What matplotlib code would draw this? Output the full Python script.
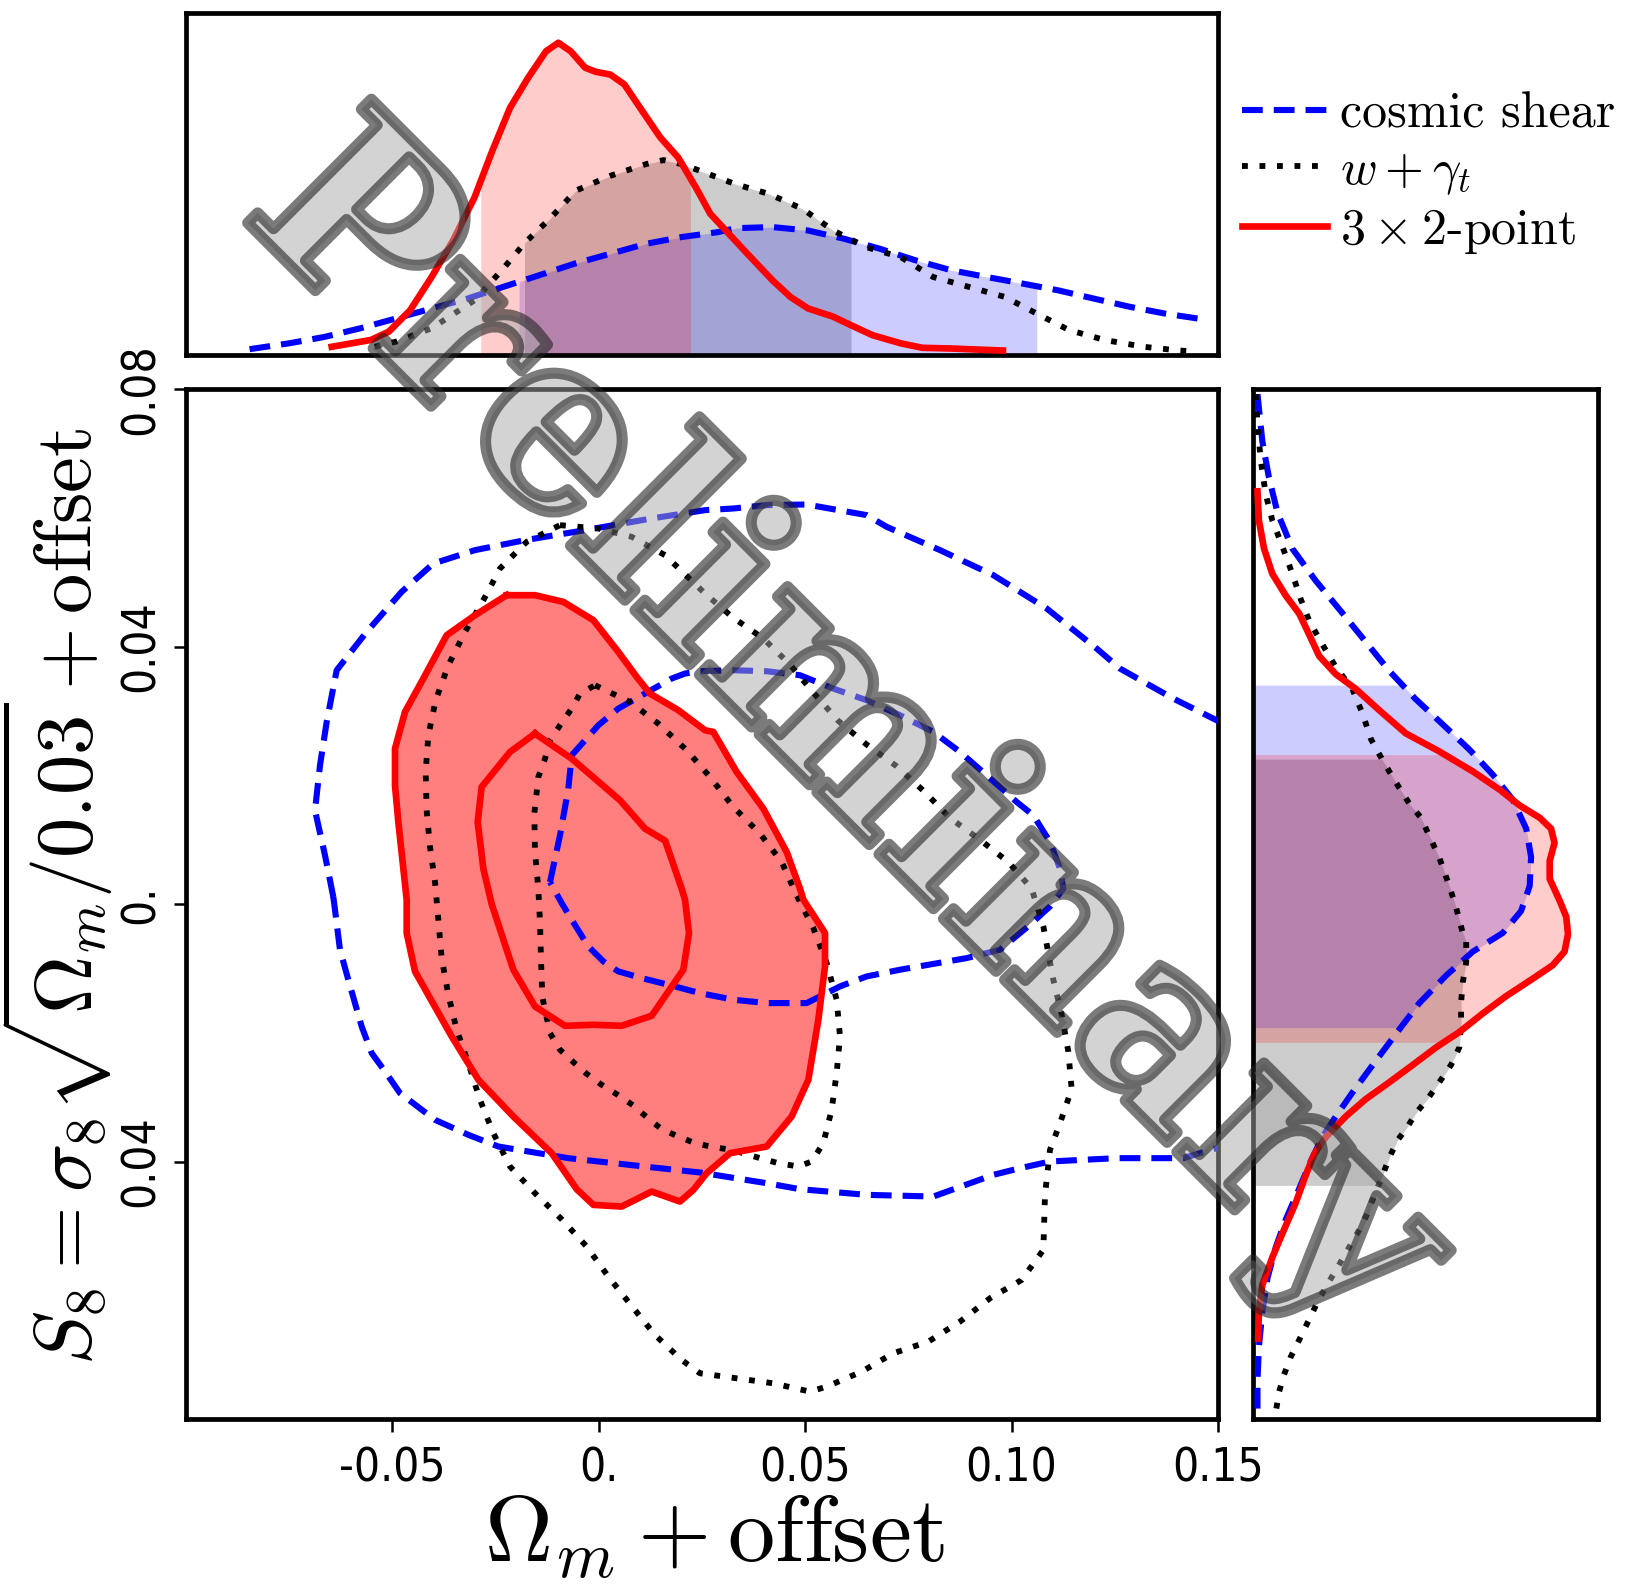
import numpy as np
import matplotlib
matplotlib.use('Agg')
import matplotlib.pyplot as plt
from matplotlib.patches import Polygon, PathPatch
from matplotlib.lines import Line2D
from matplotlib.textpath import TextPath
from matplotlib.font_manager import FontProperties, findfont
from matplotlib.transforms import Affine2D

plt.rcParams['mathtext.fontset'] = 'cm'

# ---------------- data ----------------
# x-axis: Omega_m + offset ; y-axis: S8 + offset
# cosmic shear 95% (blue dashed, extends past right edge)
cs95_x = [-0.06431, -0.06633, -0.06875, -0.06754, -0.06592, -0.06350, -0.05624, -0.04776, -0.04008,
          -0.02999, -0.01788, -0.00334, 0.01281, 0.02573, 0.03259, 0.04067, 0.05036, 0.06489, 0.06974,
          0.08266, 0.09558, 0.10850, 0.12061, 0.12626, 0.13918, 0.14968, 0.165, 0.165,
          0.14968, 0.14161, 0.12545, 0.10930, 0.10204, 0.09558, 0.08104, 0.06489, 0.04874, 0.04067,
          0.02452, 0.00877, -0.00738, -0.02434, -0.03161, -0.03968, -0.04816, -0.05179, -0.05502,
          -0.05745, -0.06068, -0.06270, -0.06391]
cs95_y = [0.00108, 0.00756, 0.01455, 0.02155, 0.02828, 0.03631, 0.04227, 0.04849, 0.05289,
          0.05497, 0.05652, 0.05807, 0.05989, 0.06118, 0.06144, 0.06196, 0.06206, 0.06041, 0.05859,
          0.05497, 0.05108, 0.04590, 0.03968, 0.03657, 0.03191, 0.02854, 0.0230, -0.0400,
          -0.03793, -0.03948, -0.03948, -0.04000, -0.04104, -0.04207, -0.04544, -0.04518, -0.04430, -0.04337,
          -0.04171, -0.04062, -0.03948, -0.03767, -0.03586, -0.03353, -0.02938, -0.02601, -0.02316,
          -0.01902, -0.01177, -0.00710, -0.00089]
# cosmic shear 68%
cs68_x = [-0.01182, -0.00940, -0.00738, -0.00657, -0.00011, 0.00473, 0.01119, 0.01765, 0.02088,
          0.02452, 0.03259, 0.04067, 0.04874, 0.05682, 0.06489, 0.07297, 0.08104, 0.08750, 0.09396,
          0.10123, 0.10527, 0.10930, 0.11173, 0.11254, 0.10930, 0.10446, 0.09719, 0.08912, 0.07297,
          0.06489, 0.05843, 0.05036, 0.04067, 0.03259, 0.02452, 0.01684, 0.01038, 0.00473, 0.00110,
          -0.00254, -0.00657, -0.00900]
cs68_y = [0.00341, 0.01067, 0.01792, 0.02310, 0.02776, 0.03036, 0.03269, 0.03502, 0.03580,
          0.03616, 0.03631, 0.03616, 0.03554, 0.03346, 0.03165, 0.02932, 0.02673, 0.02362, 0.01999,
          0.01585, 0.01378, 0.00963, 0.00549, 0.00238, -0.00037, -0.00322, -0.00710, -0.00840, -0.01021,
          -0.01125, -0.01280, -0.01539, -0.01539, -0.01487, -0.01384, -0.01254, -0.01151, -0.01047, -0.00892,
          -0.00659, -0.00244, 0.00015]
# w + gamma_t 95% (black dotted)
wg95_x = [-0.00940, -0.00011, 0.00796, 0.01604, 0.02573, 0.03259, 0.03986, 0.04632, 0.05197, 0.05803,
          0.06489, 0.07216, 0.07878, 0.08508, 0.09219, 0.09921, 0.10486, 0.10769, 0.11011, 0.11213,
          0.11374, 0.11455, 0.11173, 0.10930, 0.10809, 0.10769, 0.10244, 0.09477, 0.08750, 0.07983,
          0.07135, 0.06368, 0.05520, 0.05116, 0.04228, 0.03340, 0.02452, 0.02007, 0.01361, 0.00796,
          0.00231, -0.00294, -0.00900, -0.01546, -0.02151, -0.02555, -0.02878, -0.03161, -0.03443,
          -0.03645, -0.03807, -0.03887, -0.03968, -0.04089, -0.04170, -0.04194, -0.04130, -0.03952,
          -0.03645, -0.03241, -0.02797, -0.02393, -0.01747]
wg95_y = [0.05885, 0.05833, 0.05704, 0.05419, 0.04823, 0.04445, 0.04124, 0.03719, 0.03284, 0.02844,
          0.02476, 0.02139, 0.01751, 0.01336, 0.01005, 0.00652, 0.00238, -0.00348, -0.01177, -0.01721,
          -0.02291, -0.02876, -0.03404, -0.03819, -0.04518, -0.05373, -0.05840, -0.06124, -0.06487, -0.06798,
          -0.06979, -0.07264, -0.07497, -0.07575, -0.07446, -0.07368, -0.07290, -0.07083, -0.06694, -0.06244,
          -0.05788, -0.05321, -0.04897, -0.04492, -0.04078, -0.03560, -0.03042, -0.02472, -0.01954,
          -0.01410, -0.00840, -0.00244, 0.00341, 0.00885, 0.01455, 0.02051, 0.02621, 0.03165,
          0.03709, 0.04227, 0.04719, 0.05212, 0.05626]
# w + gamma_t 68%
wg68_x = [-0.00092, 0.00756, 0.01442, 0.02129, 0.02694, 0.03259, 0.03905, 0.04430, 0.04793, 0.05197,
          0.05520, 0.05762, 0.05843, 0.05762, 0.05641, 0.05439, 0.05157, 0.04834, 0.04349, 0.03905,
          0.03219, 0.02775, 0.02330, 0.01927, 0.01523, 0.01160, 0.00837, 0.00457, 0.00069, -0.00294,
          -0.00617, -0.00940, -0.01182, -0.01368, -0.01400, -0.01424, -0.01465, -0.01546, -0.01562,
          -0.01465, -0.01303, -0.01182, -0.00940, -0.00657, -0.00455]
wg68_y = [0.03398, 0.03139, 0.02802, 0.02388, 0.01973, 0.01507, 0.01093, 0.00652, 0.00134, -0.00374,
          -0.00918, -0.01487, -0.02057, -0.02627, -0.03197, -0.03715, -0.04000, -0.04078, -0.04026, -0.03948,
          -0.03819, -0.03777, -0.03715, -0.03612, -0.03498, -0.03311, -0.03130, -0.02964, -0.02809, -0.02638,
          -0.02456, -0.02265, -0.02006, -0.01446, -0.00866, -0.00296, 0.00238, 0.00808, 0.01404,
          0.01973, 0.02258, 0.02543, 0.02776, 0.03036, 0.03269]
# 3x2-point 95% (red, filled)
tp95_x = [-0.02232, -0.01546, -0.00859, -0.00132, 0.00473, 0.00917, 0.01240, 0.01927, 0.02573, 0.02775,
          0.03340, 0.03986, 0.04551, 0.04874, 0.04955, 0.05480, 0.05480, 0.05318, 0.05076, 0.04672,
          0.04067, 0.03178, 0.02613, 0.02290, 0.01967, 0.01281, 0.00554, -0.00132, -0.00536, -0.01142,
          -0.02070, -0.02918, -0.03564, -0.04453, -0.04654, -0.04654, -0.04856, -0.04937, -0.04937,
          -0.04695, -0.04251, -0.03685, -0.02999]
tp95_y = [0.04797, 0.04797, 0.04693, 0.04409, 0.03916, 0.03528, 0.03269, 0.03010, 0.02699, 0.02673,
          0.02051, 0.01481, 0.00808, 0.00238, 0.00067, -0.00451, -0.00969, -0.01798, -0.02731, -0.03301,
          -0.03767, -0.03871, -0.04182, -0.04441, -0.04622, -0.04467, -0.04700, -0.04674, -0.04430, -0.03871,
          -0.03301, -0.02731, -0.02057, -0.01047, -0.00451, 0.00067, 0.01274, 0.01844, 0.02414,
          0.02984, 0.03502, 0.04175, 0.04486]
# 3x2-point 68%
tp68_x = [-0.01546, -0.02151, -0.02838, -0.02934, -0.02797, -0.02595, -0.02232, -0.02070, -0.01546,
          -0.00819, -0.00132, 0.00554, 0.01281, 0.02048, 0.02185, 0.02088, 0.02007, 0.01608, 0.01119,
          0.00514, -0.00657]
tp68_y = [0.02647, 0.02362, 0.01818, 0.01274, 0.00549, 0.00000, -0.00710, -0.01021, -0.01591,
          -0.01892, -0.01876, -0.01892, -0.01736, -0.01021, -0.00451, 0.00067, 0.00238, 0.00983, 0.01170,
          0.01611, 0.02258]

# 1D marginal of Omega_m (top panel, height as fraction of panel)
om_cs_x = [-0.0846, -0.0751, -0.0664, -0.0578, -0.0491, -0.0405, -0.0318, -0.0232, -0.0145, -0.0059,
           0.0028, 0.0114, 0.0201, 0.0287, 0.0334, 0.0421, 0.0507, 0.0594, 0.0680, 0.0767, 0.0853,
           0.0940, 0.1026, 0.1113, 0.1199, 0.1286, 0.1372, 0.1476]
om_cs_p = [0.017, 0.034, 0.053, 0.078, 0.107, 0.136, 0.165, 0.199, 0.233, 0.267,
           0.296, 0.325, 0.345, 0.359, 0.371, 0.374, 0.364, 0.340, 0.311, 0.277, 0.248,
           0.228, 0.209, 0.189, 0.165, 0.141, 0.121, 0.102]
om_wg_x = [-0.0543, -0.0491, -0.0405, -0.0301, -0.0232, -0.0180, -0.0119, -0.0055, 0.0028, 0.0114,
           0.0157, 0.0201, 0.0244, 0.0330, 0.0412, 0.0494, 0.0568, 0.0646, 0.0732, 0.0810, 0.0897,
           0.0983, 0.1061, 0.1139, 0.1225, 0.1320, 0.1407, 0.1450]
om_wg_p = [0.024, 0.039, 0.078, 0.160, 0.252, 0.327, 0.398, 0.481, 0.524, 0.558,
           0.570, 0.558, 0.539, 0.500, 0.471, 0.427, 0.364, 0.316, 0.286, 0.228, 0.199,
           0.170, 0.121, 0.073, 0.044, 0.024, 0.013, 0.010]
om_tp_x = [-0.0647, -0.0552, -0.0509, -0.0457, -0.0405, -0.0353, -0.0301, -0.0258, -0.0215, -0.0171,
           -0.0128, -0.0098, -0.0068, -0.0033, -0.0007, 0.0028, 0.0062, 0.0105, 0.0149, 0.0192,
           0.0235, 0.0270, 0.0300, 0.0360, 0.0421, 0.0464, 0.0507, 0.0568, 0.0611, 0.0663, 0.0732,
           0.0784, 0.0853, 0.0979]
om_tp_p = [0.024, 0.044, 0.068, 0.131, 0.228, 0.335, 0.461, 0.597, 0.723, 0.811,
           0.888, 0.913, 0.888, 0.840, 0.828, 0.820, 0.791, 0.714, 0.636, 0.578,
           0.490, 0.413, 0.374, 0.296, 0.218, 0.170, 0.136, 0.112, 0.087, 0.058, 0.034,
           0.021, 0.019, 0.013]

# 1D marginal of S8 (right panel, width as fraction of panel)
s8_cs_y = [0.0792, 0.0719, 0.0663, 0.0608, 0.0552, 0.0502, 0.0452, 0.0407, 0.0362, 0.0318, 0.0279,
           0.0240, 0.0201, 0.0162, 0.0117, 0.0073, 0.0028, -0.0011, -0.0045, -0.0074, -0.0111, -0.0154,
           -0.0202, -0.0250, -0.0293, -0.0330, -0.0362, -0.0400, -0.0442, -0.0490, -0.0533, -0.0581,
           -0.0634, -0.0688, -0.0741, -0.0784]
s8_cs_p = [0.013, 0.027, 0.046, 0.071, 0.114, 0.182, 0.259, 0.327, 0.395, 0.472, 0.550,
           0.627, 0.695, 0.753, 0.792, 0.806, 0.802, 0.777, 0.724, 0.637, 0.560, 0.482,
           0.414, 0.347, 0.288, 0.240, 0.201, 0.167, 0.134, 0.095, 0.066, 0.042,
           0.027, 0.017, 0.013, 0.013]
s8_wg_y = [0.0792, 0.0747, 0.0691, 0.0636, 0.0596, 0.0563, 0.0513, 0.0474, 0.0440, 0.0407, 0.0368,
           0.0334, 0.0295, 0.0256, 0.0223, 0.0189, 0.0156, 0.0134, 0.0100, 0.0072, 0.0028, -0.0006,
           -0.0045, -0.0058, -0.0090, -0.0122, -0.0154, -0.0186, -0.0223, -0.0250, -0.0277, -0.0303,
           -0.0325, -0.0346, -0.0367, -0.0394, -0.0421, -0.0453, -0.0480, -0.0506, -0.0533, -0.0560,
           -0.0586, -0.0613, -0.0645, -0.0677, -0.0704, -0.0731, -0.0757, -0.0789]
s8_wg_p = [0.008, 0.013, 0.022, 0.037, 0.056, 0.080, 0.114, 0.138, 0.163, 0.197, 0.240,
           0.288, 0.318, 0.342, 0.376, 0.414, 0.453, 0.487, 0.516, 0.540, 0.569, 0.589,
           0.608, 0.618, 0.618, 0.608, 0.603, 0.603, 0.598, 0.574, 0.540, 0.506,
           0.472, 0.448, 0.419, 0.395, 0.376, 0.351, 0.332, 0.308, 0.279, 0.250,
           0.221, 0.192, 0.163, 0.134, 0.109, 0.090, 0.076, 0.066]
s8_tp_y = [0.0641, 0.0596, 0.0552, 0.0513, 0.0479, 0.0451, 0.0424, 0.0385, 0.0357, 0.0334, 0.0301,
           0.0265, 0.0237, 0.0206, 0.0178, 0.0153, 0.0134, 0.0117, 0.0095, 0.0067, 0.0039, 0.0005,
           -0.0020, -0.0047, -0.0074, -0.0095, -0.0116, -0.0143, -0.0170, -0.0199, -0.0223, -0.0250,
           -0.0277, -0.0303, -0.0330, -0.0362, -0.0389, -0.0421, -0.0464, -0.0512, -0.0549, -0.0592,
           -0.0634, -0.0675]
s8_tp_p = [0.013, 0.017, 0.032, 0.056, 0.095, 0.134, 0.158, 0.192, 0.240, 0.298, 0.366,
           0.443, 0.540, 0.637, 0.714, 0.773, 0.831, 0.864, 0.874, 0.860, 0.860, 0.889,
           0.908, 0.913, 0.903, 0.869, 0.811, 0.734, 0.666, 0.598, 0.530, 0.463,
           0.395, 0.327, 0.269, 0.211, 0.177, 0.153, 0.124, 0.085, 0.056, 0.027,
           0.017, 0.015]

# 68% intervals shaded in the marginals
om_int = {'wg': (-0.0180, 0.0611), 'cs': (-0.0193, 0.1061), 'tp': (-0.0286, 0.0222)}
s8_int = {'wg': (-0.0437, 0.0225), 'cs': (-0.0192, 0.0340), 'tp': (-0.0215, 0.0232)}

legend_labels = ['cosmic shear', r'$w+\gamma_t$', r'$3\times 2$-point']
xticks = [-0.05, 0.0, 0.05, 0.10, 0.15]
xtick_labels = ['-0.05', '0.', '0.05', '0.10', '0.15']
yticks = [0.08, 0.04, 0.0, -0.04]
ytick_labels = ['0.08', '0.04', '0.', '0.04']

# ---------------- styling ----------------
BLUE, RED, BLACK = '#0000ff', '#ff0000', '#000000'
LW_B, LW_K, LW_R = 4.4, 4.2, 4.8
DASH = (0, (3.4, 1.8))
DOT = (0, (1.0, 2.0))
styles = {
    'cs': dict(color=BLUE, lw=LW_B, linestyle=DASH),
    'wg': dict(color=BLACK, lw=LW_K, linestyle=DOT),
    'tp': dict(color=RED, lw=LW_R, linestyle='-'),
}


def tick_fontprops():
    cands = [dict(family='Liberation Sans Narrow'),
             dict(family='DejaVu Sans', stretch='condensed'),
             dict(family='DejaVu Sans', stretch='semi-condensed')]
    for c in cands:
        try:
            p = findfont(FontProperties(**c), fallback_to_default=False)
            if 'Narrow' in p or 'Condensed' in p:
                return FontProperties(fname=p, size=33)
        except Exception:
            pass
    return FontProperties(family='Liberation Sans', size=30)


TFP = tick_fontprops()

W, H = 1627, 1584
fig = plt.figure(figsize=(W / 100, H / 100), dpi=100)

L, R = 186 / W, 1218 / W
B, T = 1 - 1419 / H, 1 - 389 / H
ax = fig.add_axes([L, B, R - L, T - B])
axt = fig.add_axes([L, 1 - 355 / H, R - L, (355 - 13) / H])
axr = fig.add_axes([1253 / W, B, (1598 - 1253) / W, T - B])

for a in (ax, axt, axr):
    for s in a.spines.values():
        s.set_linewidth(3.4)

# ---- main panel ----
ax.add_patch(Polygon(np.column_stack([tp95_x, tp95_y]), closed=True,
                     facecolor=RED, alpha=0.5, edgecolor='none', zorder=1))


def closed(xs, ys):
    return list(xs) + [xs[0]], list(ys) + [ys[0]]


for (xs, ys, key) in [(cs95_x, cs95_y, 'cs'), (cs68_x, cs68_y, 'cs'),
                      (wg95_x, wg95_y, 'wg'), (wg68_x, wg68_y, 'wg'),
                      (tp95_x, tp95_y, 'tp'), (tp68_x, tp68_y, 'tp')]:
    cx, cy = closed(xs, ys)
    ax.plot(cx, cy, zorder=3, solid_joinstyle='round', **styles[key])

ax.set_xlim(-0.1, 0.15)
ax.set_ylim(-0.08, 0.08)
ax.set_xticks(xticks)
ax.set_xticklabels(xtick_labels, fontproperties=TFP)
ax.set_yticks(yticks)
ax.set_yticklabels(ytick_labels, fontproperties=TFP, rotation=90, va='center')
ax.tick_params(axis='both', direction='out', length=9, width=1.8)
ax.tick_params(axis='x', pad=11)
ax.tick_params(axis='y', pad=7)


def shade_v(a, xs, ys, lo, hi, color):
    xs = np.asarray(xs); ys = np.asarray(ys)
    m = (xs > lo) & (xs < hi)
    px = np.concatenate([[lo], xs[m], [hi]])
    py = np.concatenate([[np.interp(lo, xs, ys)], ys[m], [np.interp(hi, xs, ys)]])
    a.fill_between(px, 0, py, color=color, alpha=0.2, lw=0, zorder=1)


def shade_h(a, ys, ps, lo, hi, color):
    ys = np.asarray(ys); ps = np.asarray(ps)
    o = np.argsort(ys)
    ys, ps = ys[o], ps[o]
    m = (ys > lo) & (ys < hi)
    py = np.concatenate([[lo], ys[m], [hi]])
    pp = np.concatenate([[np.interp(lo, ys, ps)], ps[m], [np.interp(hi, ys, ps)]])
    a.fill_betweenx(py, 0, pp, color=color, alpha=0.2, lw=0, zorder=1)


# ---- top panel ----
shade_v(axt, om_wg_x, om_wg_p, *om_int['wg'], BLACK)
shade_v(axt, om_cs_x, om_cs_p, *om_int['cs'], BLUE)
shade_v(axt, om_tp_x, om_tp_p, *om_int['tp'], RED)
axt.plot(om_cs_x, om_cs_p, zorder=3, **styles['cs'])
axt.plot(om_wg_x, om_wg_p, zorder=3, **styles['wg'])
axt.plot(om_tp_x, om_tp_p, zorder=3, **styles['tp'])
axt.set_xlim(-0.1, 0.15)
axt.set_ylim(0, 1)
axt.set_xticks([]); axt.set_yticks([])

# ---- right panel ----
shade_h(axr, s8_wg_y, s8_wg_p, *s8_int['wg'], BLACK)
shade_h(axr, s8_cs_y, s8_cs_p, *s8_int['cs'], BLUE)
shade_h(axr, s8_tp_y, s8_tp_p, *s8_int['tp'], RED)
axr.plot(s8_cs_p, s8_cs_y, zorder=3, **styles['cs'])
axr.plot(s8_wg_p, s8_wg_y, zorder=3, **styles['wg'])
axr.plot(s8_tp_p, s8_tp_y, zorder=3, **styles['tp'])
axr.set_ylim(-0.08, 0.08)
axr.set_xlim(0, 1)
axr.set_xticks([]); axr.set_yticks([])

# ---- labels ----
fig.text(714 / W, 1 - 1536 / H, r'$\Omega_m + \mathrm{offset}$', fontsize=68,
         ha='center', va='center')
fig.text(57 / W, (B + T) / 2 + 0.005, r'$S_8 = \sigma_8\sqrt{\Omega_m/0.03} + \mathrm{offset}$',
         fontsize=58, ha='center', va='center', rotation=90)

# ---- legend ----
handles = [Line2D([], [], **styles['cs']), Line2D([], [], **styles['wg']),
           Line2D([], [], **styles['tp'])]
fig.legend(handles, legend_labels, loc='upper left',
           bbox_to_anchor=(1242 / W, 1 - 92 / H), frameon=False,
           prop=FontProperties(family='cmr10', size=36), handlelength=1.7,
           handletextpad=0.25, labelspacing=0.2, borderpad=0, borderaxespad=0)

# ---- watermark ----
fp = FontProperties(family='DejaVu Serif', weight='bold')
tp = TextPath((0, 0), 'Preliminary', size=240, prop=fp)
ext = tp.get_extents()
cx, cy = (ext.x0 + ext.x1) / 2, (ext.y0 + ext.y1) / 2
tr = Affine2D().translate(-cx, -cy).rotate_deg(-45).translate(851, H - 735)
fill = PathPatch(tp, transform=tr, facecolor='#a9a9a9', edgecolor='none', alpha=0.5, zorder=10)
edge = PathPatch(tp, transform=tr, facecolor='none', edgecolor='#232323', lw=8, alpha=0.6,
                 zorder=11, joinstyle='round')
fig.add_artist(fill)
fig.add_artist(edge)

fig.savefig('out.png', dpi=100)
